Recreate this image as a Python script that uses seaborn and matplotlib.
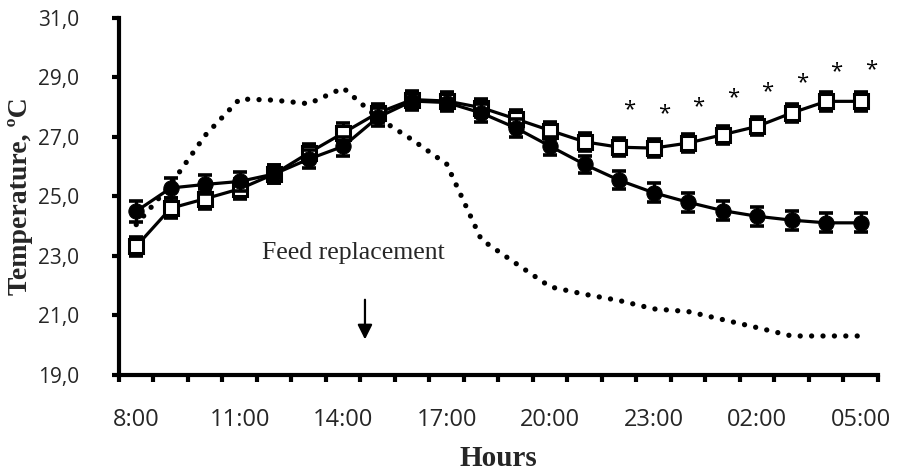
import numpy as np
import pandas as pd
import matplotlib
matplotlib.use("Agg")
import matplotlib.pyplot as plt
import seaborn as sns

# data
hours = ["8:00", "9:00", "10:00", "11:00", "12:00", "13:00", "14:00", "15:00",
         "16:00", "17:00", "18:00", "19:00", "20:00", "21:00", "22:00", "23:00",
         "00:00", "01:00", "02:00", "03:00", "04:00", "05:00"]
tick_labels = ["8:00", "11:00", "14:00", "17:00", "20:00", "23:00", "02:00", "05:00"]

temp_circle = [24.50, 25.28, 25.40, 25.50, 25.75, 26.25, 26.68, 27.65,
               28.20, 28.15, 27.80, 27.30, 26.68, 26.07, 25.54, 25.12,
               24.80, 24.52, 24.33, 24.20, 24.11, 24.11]
err_circle = [0.35, 0.33, 0.33, 0.33, 0.30, 0.30, 0.32, 0.30,
              0.30, 0.30, 0.30, 0.30, 0.30, 0.30, 0.30, 0.32,
              0.32, 0.32, 0.32, 0.32, 0.32, 0.32]

temp_square = [23.32, 24.60, 24.92, 25.25, 25.75, 26.46, 27.13, 27.80,
               28.25, 28.20, 27.98, 27.60, 27.21, 26.83, 26.65, 26.62,
               26.79, 27.07, 27.35, 27.80, 28.19, 28.19]
err_square = [0.33, 0.33, 0.33, 0.33, 0.30, 0.30, 0.32, 0.30,
              0.30, 0.30, 0.30, 0.30, 0.30, 0.30, 0.30, 0.30,
              0.30, 0.30, 0.30, 0.30, 0.32, 0.32]

temp_ambient = [24.05, 25.40, 27.05, 28.27, 28.23, 28.11, 28.64, 27.64,
                26.90, 26.08, 23.55, 22.75, 21.96, 21.71, 21.50, 21.22,
                21.13, 20.86, 20.59, 20.31, 20.31, 20.31]

star_hours = ["22:00", "23:00", "00:00", "01:00", "02:00", "03:00", "04:00", "05:00"]
star_y = [28.07, 27.93, 28.19, 28.49, 28.69, 29.00, 29.34, 29.42]

x = np.arange(len(hours))
df = pd.DataFrame({"x": x, "circle": temp_circle, "square": temp_square,
                   "ambient": temp_ambient})

sns.set_style("white")
plt.rcParams["font.family"] = ["Open Sans", "DejaVu Sans"]

fig = plt.figure(figsize=(8.98, 4.74), dpi=100)
ax = fig.add_axes([0.1325, 0.2089, 0.8452, 0.7538])

# dotted ambient line
sns.lineplot(data=df, x="x", y="ambient", ax=ax, color="black", lw=3.8, zorder=1)
amb = ax.lines[-1]
amb.set_linestyle((0, (0.01, 2.15)))
amb.set_dash_capstyle("round")

# open squares
sns.lineplot(data=df, x="x", y="square", ax=ax, color="black", lw=2.3,
             marker="s", markersize=9.5, markerfacecolor="white",
             markeredgecolor="black", markeredgewidth=2.2, zorder=3)
ax.errorbar(x, temp_square, yerr=err_square, fmt="none", ecolor="black",
            elinewidth=2.2, capsize=5, capthick=2.6, zorder=2)

# filled circles
sns.lineplot(data=df, x="x", y="circle", ax=ax, color="black", lw=2.3,
             marker="o", markersize=11, markerfacecolor="black",
             markeredgecolor="black", zorder=5)
ax.errorbar(x, temp_circle, yerr=err_circle, fmt="none", ecolor="black",
            elinewidth=2.2, capsize=5, capthick=2.6, zorder=4)

# significance stars
for h, yv in zip(star_hours, star_y):
    ax.text(hours.index(h) + 0.3, yv - 0.17, "*", ha="center", va="center",
            fontsize=16, color="black")

# feed replacement note
ax.text(3.64, 22.88, "Feed replacement", family="Liberation Serif",
        fontsize=18.5, ha="left", va="baseline")
ax.annotate("", xy=(6.63, 20.1), xytext=(6.63, 21.62),
            arrowprops=dict(arrowstyle="-|>", color="black", lw=1.6,
                            mutation_scale=22))

ax.set_xlim(-0.5, len(hours) - 0.5)
ax.set_ylim(19, 31)

yt = np.arange(19, 31.1, 2)
ax.set_yticks(yt)
ax.set_yticklabels([f"{v:.1f}".replace(".", ",") for v in yt], fontsize=15)

ax.set_xticks(np.arange(-0.5, len(hours), 1))
ax.set_xticklabels([])
ax.set_xticks([hours.index(t) if t in hours else hours.index(t.lstrip("0")) for t in tick_labels], minor=True)
ax.set_xticklabels(tick_labels, minor=True, fontsize=17)

ax.tick_params(axis="x", which="major", direction="out", length=5, width=3, color="black", bottom=True)
ax.tick_params(axis="x", which="minor", length=0, pad=24)
ax.tick_params(axis="y", direction="out", length=5, width=3, color="black", pad=24, left=True)

for side in ["top", "right"]:
    ax.spines[side].set_visible(False)
for side in ["left", "bottom"]:
    ax.spines[side].set_linewidth(3)
    ax.spines[side].set_color("black")

ax.set_xlabel("Hours", family="Liberation Serif", fontweight="bold", fontsize=21)
ax.xaxis.set_label_coords(0.5, -0.195)
ax.set_ylabel("Temperature, ºC", family="Liberation Serif", fontweight="bold", fontsize=20)
ax.yaxis.set_label_coords(-0.113, 0.5)

fig.savefig("out.png", dpi=100)
